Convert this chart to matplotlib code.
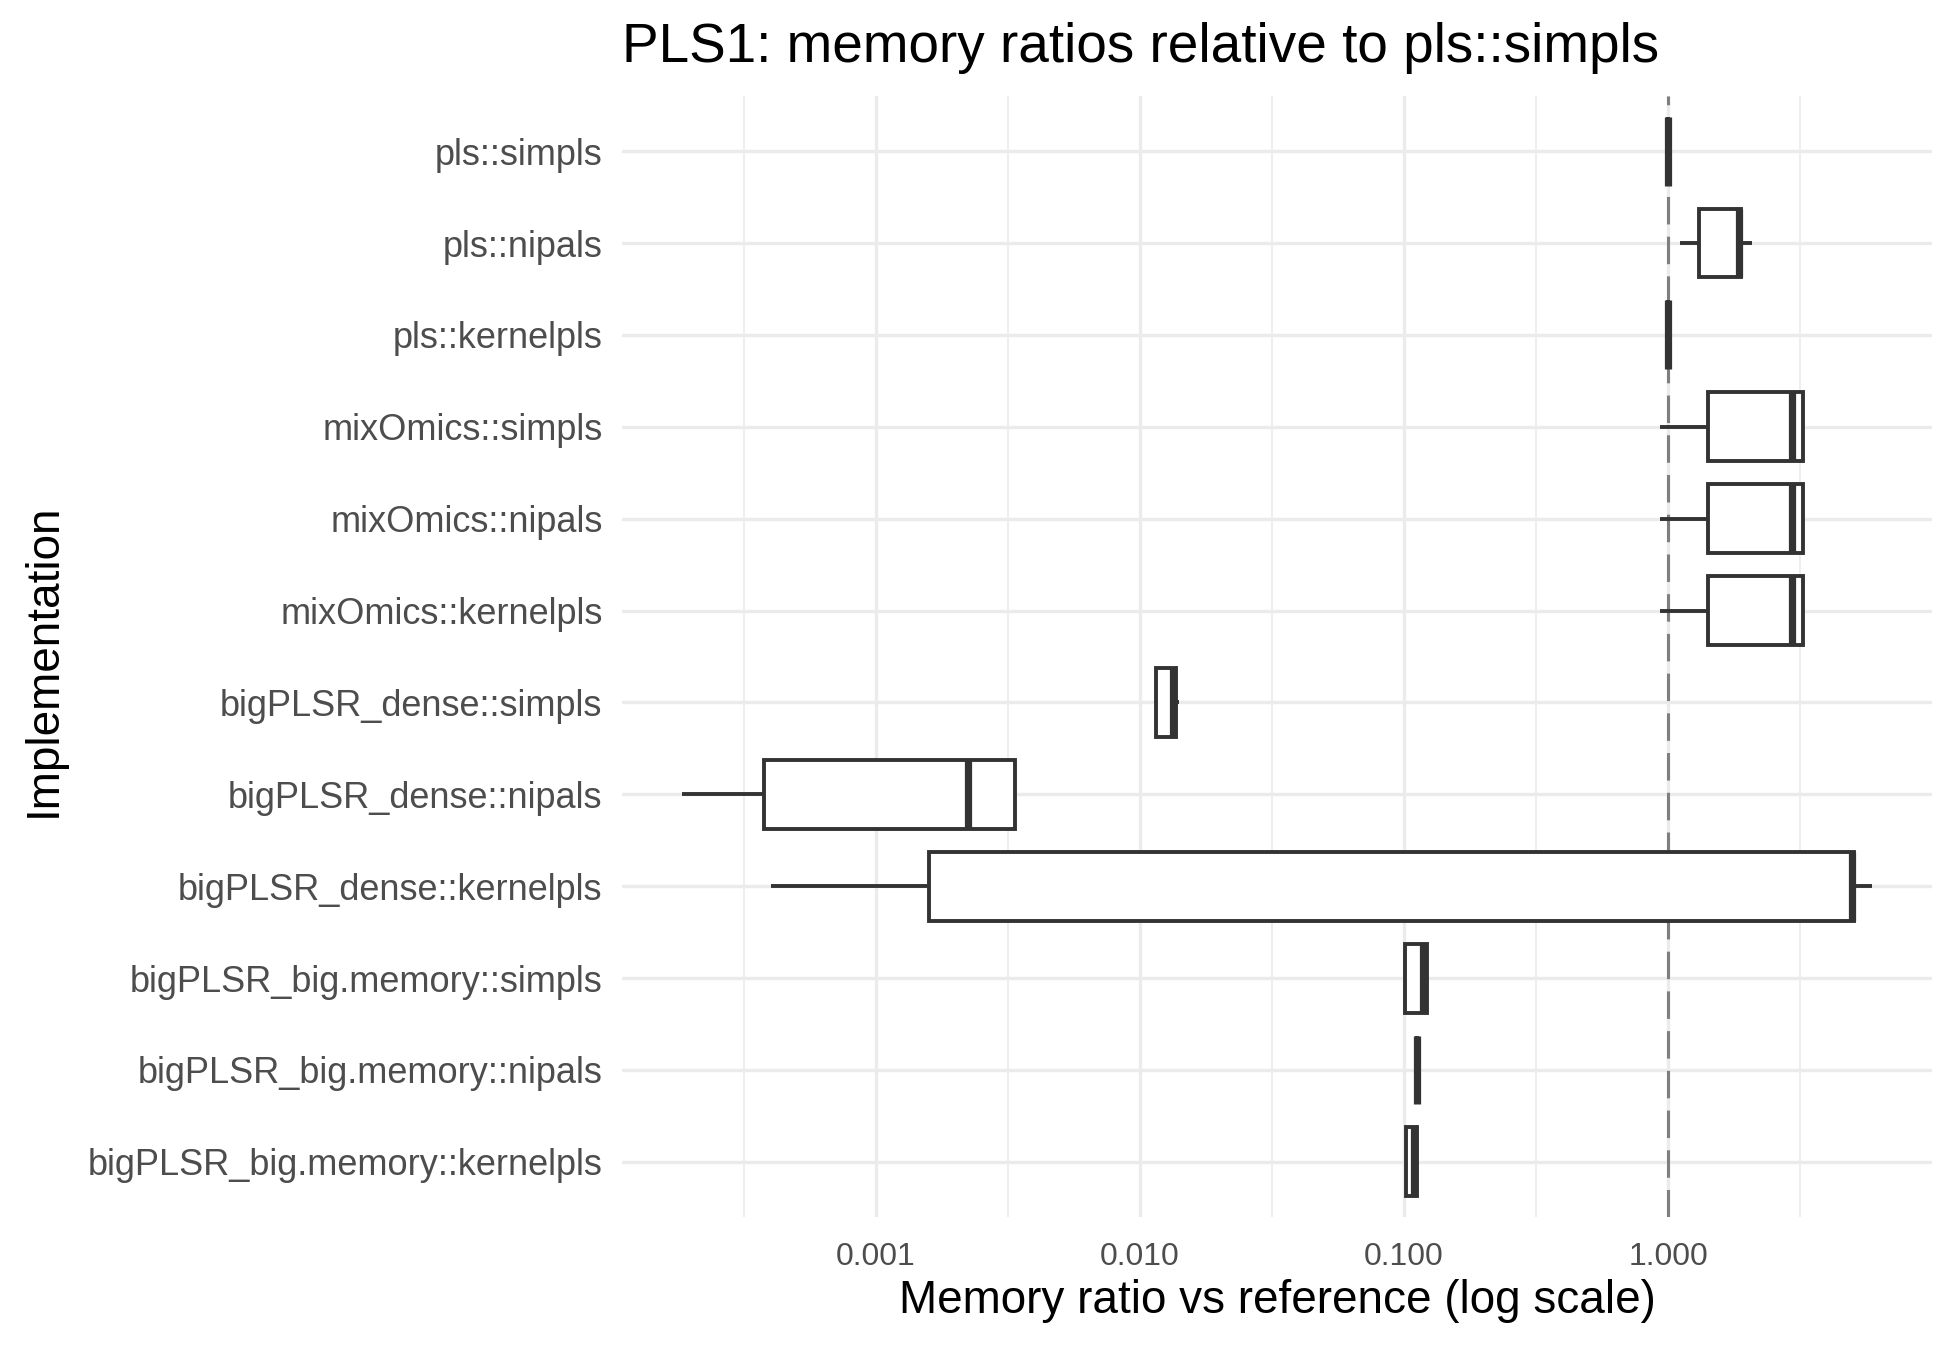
import numpy as np
import matplotlib.pyplot as plt
from matplotlib.ticker import FixedLocator, FixedFormatter, NullFormatter

# box statistics (memory ratio vs pls::simpls)
methods = ["pls::simpls", "pls::nipals", "pls::kernelpls",
           "mixOmics::simpls", "mixOmics::nipals", "mixOmics::kernelpls",
           "bigPLSR_dense::simpls", "bigPLSR_dense::nipals", "bigPLSR_dense::kernelpls",
           "bigPLSR_big.memory::simpls", "bigPLSR_big.memory::nipals",
           "bigPLSR_big.memory::kernelpls"]
whislo = [1.0, 1.11, 1.0, 0.93, 0.93, 0.93, 0.0115, 0.000184, 0.000400, 0.101, 0.112, 0.1015]
q1 = [1.0, 1.31, 1.0, 1.42, 1.42, 1.42, 0.0115, 0.000377, 0.00159, 0.101, 0.112, 0.1015]
med = [1.0, 1.86, 1.0, 2.95, 2.95, 2.95, 0.01334, 0.00223, 4.98, 0.118, 0.112, 0.109]
q3 = [1.0, 1.88, 1.0, 3.24, 3.24, 3.24, 0.01368, 0.00336, 5.07, 0.122, 0.112, 0.112]
whishi = [1.0, 2.08, 1.0, 3.24, 3.24, 3.24, 0.01406, 0.00336, 5.93, 0.122, 0.112, 0.112]

major_ticks = [0.001, 0.01, 0.1, 1.0]
major_labels = ["0.001", "0.010", "0.100", "1.000"]
minor_ticks = [10 ** -3.5, 10 ** -2.5, 10 ** -1.5, 10 ** -0.5, 10 ** 0.5]

plt.rcParams['font.family'] = ['Liberation Sans', 'DejaVu Sans']

W, H = 1950, 1350
fig = plt.figure(figsize=(W / 100, H / 100), dpi=100)
left, right, top, bottom = 622, 1932, 96, 1217
ax = fig.add_axes([left / W, 1 - bottom / H, (right - left) / W, (bottom - top) / H])

n = len(methods)
pos = np.arange(n, 0, -1)
stats = []
for i in range(n):
    stats.append(dict(label=methods[i], whislo=whislo[i], q1=q1[i], med=med[i],
                      q3=q3[i], whishi=whishi[i]))

ax.axvline(1.0, color='#7F7F7F', lw=2.2, ls=(0, (9, 4)), zorder=1.5)

ax.bxp(stats, positions=pos, widths=0.75, orientation='horizontal',
       showfliers=False, showcaps=False, patch_artist=True,
       boxprops=dict(facecolor='white', edgecolor='#333333', linewidth=2.8),
       whiskerprops=dict(color='#333333', linewidth=2.8, solid_capstyle='butt'),
       medianprops=dict(color='#333333', linewidth=5.2, solid_capstyle='butt'),
       zorder=2)

ax.set_xscale('log')
lo, hi = np.log10(min(whislo)), np.log10(max(whishi))
pad = 0.05 * (hi - lo)
ax.set_xlim(10 ** (lo - pad), 10 ** (hi + pad))
ax.set_ylim(0.4, n + 0.6)

ax.xaxis.set_major_locator(FixedLocator(major_ticks))
ax.xaxis.set_major_formatter(FixedFormatter(major_labels))
ax.xaxis.set_minor_locator(FixedLocator(minor_ticks))
ax.xaxis.set_minor_formatter(NullFormatter())
ax.set_yticks(pos)
ax.set_yticklabels(methods)

ax.set_axisbelow(True)
ax.grid(which='major', axis='both', color='#EBEBEB', lw=2.4)
ax.grid(which='minor', axis='x', color='#EBEBEB', lw=1.2)
for s in ax.spines.values():
    s.set_visible(False)
ax.tick_params(which='both', length=0)
ax.tick_params(axis='y', labelsize=26, labelcolor='#4D4D4D', pad=14)
ax.tick_params(axis='x', labelsize=23, labelcolor='#4D4D4D', pad=18)

ax.set_xlabel("Memory ratio vs reference (log scale)", fontsize=33, labelpad=5)
fig.text(44 / W, 1 - 660 / H, "Implementation", rotation=90, fontsize=33,
         ha='center', va='center')
fig.text(left / W, 1 - 62 / H, "PLS1: memory ratios relative to pls::simpls",
         fontsize=39.5, ha='left', va='baseline')

fig.savefig('out.png', dpi=100, facecolor='white')
